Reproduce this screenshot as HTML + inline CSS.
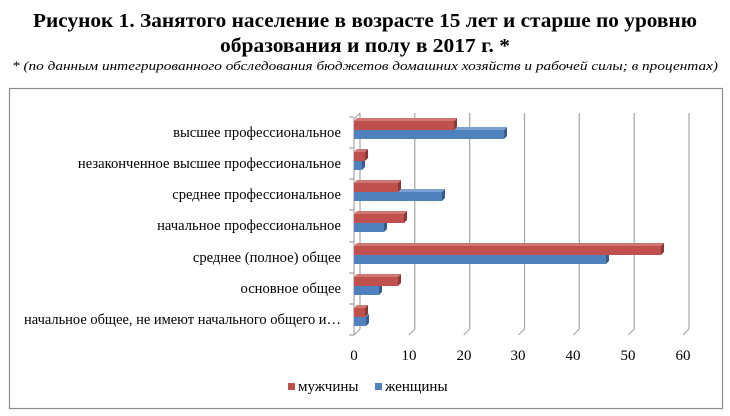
<!DOCTYPE html>
<html><head><meta charset="utf-8"><style>
html,body{margin:0;padding:0;background:#fff;}
svg{display:block;font-family:"Liberation Serif",serif;}
</style></head><body>
<svg width="730" height="416" viewBox="0 0 730 416" xmlns="http://www.w3.org/2000/svg">
<text x="365" y="27" text-anchor="middle" font-size="20" font-weight="bold" textLength="664" lengthAdjust="spacingAndGlyphs">Рисунок 1. Занятого население  в возрасте 15 лет и старше по уровню</text>
<text x="365" y="52" text-anchor="middle" font-size="20" font-weight="bold" textLength="290" lengthAdjust="spacingAndGlyphs">образования и полу в 2017 г. *</text>
<text x="365" y="70" text-anchor="middle" font-size="13" font-style="italic" textLength="706" lengthAdjust="spacingAndGlyphs">* (по данным интегрированного обследования бюджетов домашних хозяйств и рабочей силы; в процентах)</text>
<rect x="9.5" y="88.5" width="713" height="320" fill="#fff" stroke="#8c8c8c" stroke-width="1.2"/>
<g stroke="#a6a6a6" stroke-width="1.2" fill="none">
<path d="M360 113V329M354 335L360 329"/>
<path d="M414.8 113V329M408.8 335L414.8 329"/>
<path d="M469.7 113V329M463.7 335L469.7 329"/>
<path d="M524.5 113V329M518.5 335L524.5 329"/>
<path d="M579.3 113V329M573.3 335L579.3 329"/>
<path d="M634.2 113V329M628.2 335L634.2 329"/>
<path d="M689 113V329M683 335L689 329"/>
<path d="M354 119V335M354 119L360 113"/>
<path d="M349 117H354M349 148H354M349 179H354M349 210H354M349 242H354M349 273H354M349 304H354M349 335H354"/>
</g>
<g font-size="14.6" text-anchor="end" fill="#000">
<text x="341" y="137">высшее профессиональное</text>
<text x="341" y="168">незаконченное высшее профессиональное</text>
<text x="341" y="199">среднее профессиональное</text>
<text x="341" y="230">начальное профессиональное</text>
<text x="341" y="262">среднее (полное) общее</text>
<text x="341" y="293">основное общее</text>
<text x="341" y="324" textLength="317" lengthAdjust="spacingAndGlyphs">начальное общее, не имеют начального общего и…</text>
</g>
<g font-size="15" text-anchor="middle">
<text x="354" y="360">0</text><text x="409" y="360">10</text><text x="464" y="360">20</text><text x="518" y="360">30</text><text x="573" y="360">40</text><text x="628" y="360">50</text><text x="683" y="360">60</text>
</g>
<g>
<rect x="354" y="130" width="150" height="9" fill="#4f81bd"/><polygon points="504,130 507,127 507,136 504,139" fill="#385d8a"/>
<rect x="354" y="161" width="8" height="9" fill="#4f81bd"/><polygon points="362,161 365,158 365,167 362,170" fill="#385d8a"/>
<rect x="354" y="192" width="88" height="9" fill="#4f81bd"/><polygon points="442,192 445,189 445,198 442,201" fill="#385d8a"/>
<rect x="354" y="223" width="30" height="9" fill="#4f81bd"/><polygon points="384,223 387,220 387,229 384,232" fill="#385d8a"/><polygon points="354,223 357,220 387,220 384,223" fill="#7aa0d0"/>
<rect x="354" y="255" width="252" height="9" fill="#4f81bd"/><polygon points="606,255 609,252 609,261 606,264" fill="#385d8a"/>
<rect x="354" y="286" width="25" height="9" fill="#4f81bd"/><polygon points="379,286 382,283 382,292 379,295" fill="#385d8a"/>
<rect x="354" y="317" width="12" height="9" fill="#4f81bd"/><polygon points="366,317 369,314 369,323 366,326" fill="#385d8a"/><polygon points="354,317 357,314 369,314 366,317" fill="#7aa0d0"/>
<polygon points="354,130 357,127 507,127 504,130" fill="#7aa0d0"/>
<polygon points="354,192 357,189 445,189 442,192" fill="#7aa0d0"/>
</g>
<g>
<polygon points="354,121 357,118 457,118 454,121" fill="#d07774"/><rect x="354" y="121" width="100" height="9" fill="#c0504d"/><polygon points="454,121 457,118 457,127 454,130" fill="#8c3836"/>
<polygon points="354,152 357,149 368,149 365,152" fill="#d07774"/><rect x="354" y="152" width="11" height="9" fill="#c0504d"/><polygon points="365,152 368,149 368,158 365,161" fill="#8c3836"/>
<polygon points="354,183 357,180 401,180 398,183" fill="#d07774"/><rect x="354" y="183" width="44" height="9" fill="#c0504d"/><polygon points="398,183 401,180 401,189 398,192" fill="#8c3836"/>
<polygon points="354,214 357,211 407,211 404,214" fill="#d07774"/><rect x="354" y="214" width="50" height="9" fill="#c0504d"/><polygon points="404,214 407,211 407,220 404,223" fill="#8c3836"/>
<polygon points="354,246 357,243 664,243 661,246" fill="#d07774"/><rect x="354" y="246" width="307" height="9" fill="#c0504d"/><polygon points="661,246 664,243 664,252 661,255" fill="#8c3836"/>
<polygon points="354,277 357,274 401,274 398,277" fill="#d07774"/><rect x="354" y="277" width="44" height="9" fill="#c0504d"/><polygon points="398,277 401,274 401,283 398,286" fill="#8c3836"/>
<polygon points="354,308 357,305 368,305 365,308" fill="#d07774"/><rect x="354" y="308" width="11" height="9" fill="#c0504d"/><polygon points="365,308 368,305 368,314 365,317" fill="#8c3836"/>
</g>
<rect x="288" y="383" width="7" height="7" fill="#c0504d"/>
<text x="298" y="391" font-size="15">мужчины</text>
<rect x="375" y="383" width="7" height="7" fill="#4f81bd"/>
<text x="385" y="391" font-size="15">женщины</text>
</svg>
</body></html>
